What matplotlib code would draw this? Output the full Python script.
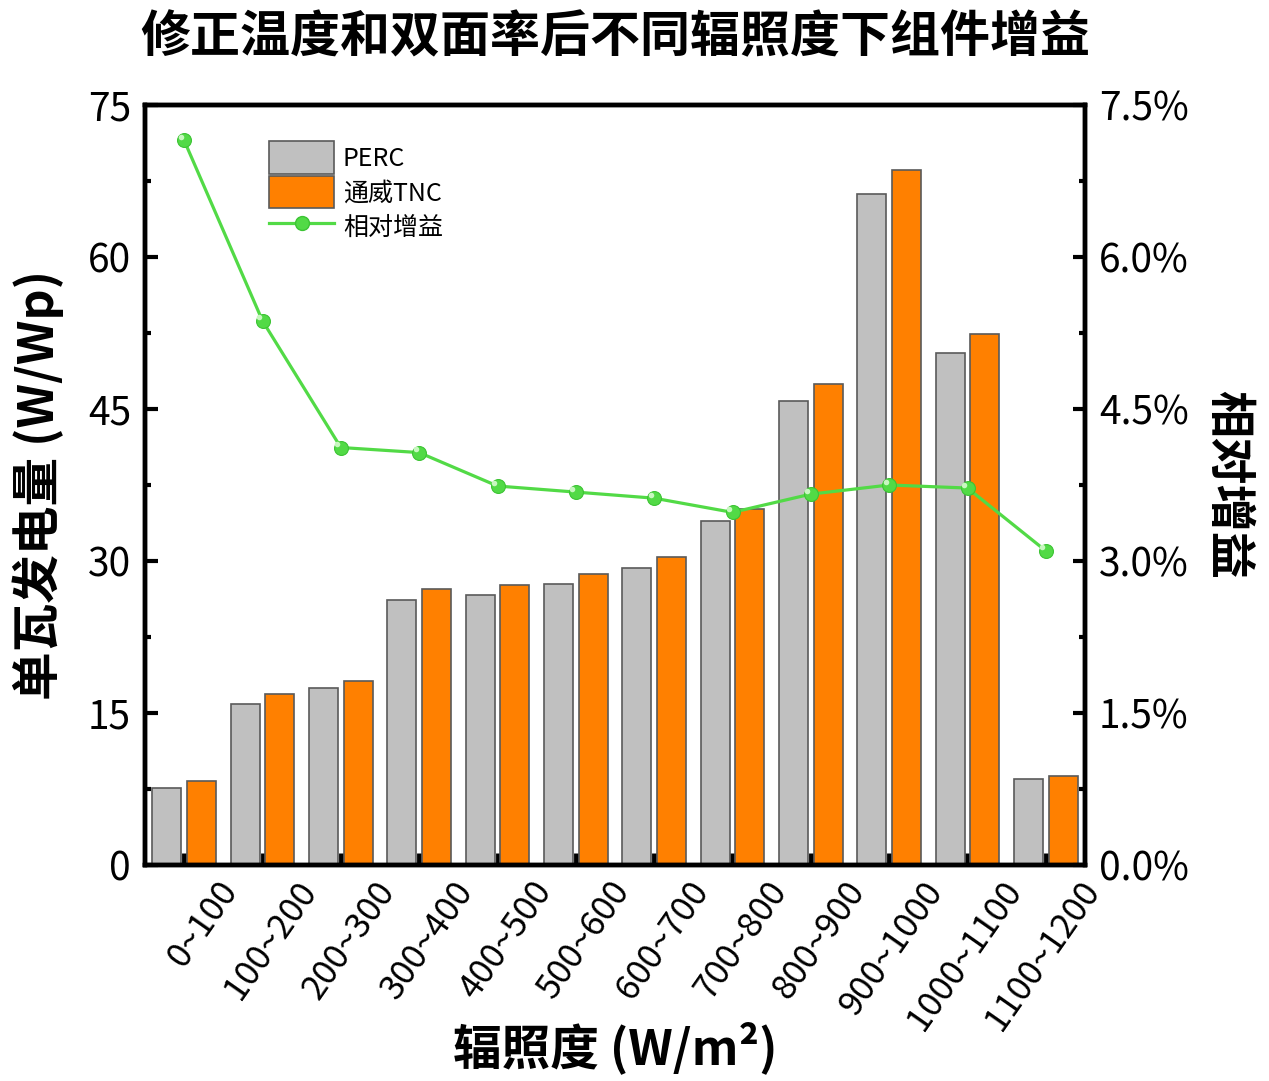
import matplotlib
matplotlib.use("Agg")
import matplotlib.pyplot as plt
import matplotlib.transforms as mtransforms
from matplotlib.patches import Patch
from matplotlib.lines import Line2D
from matplotlib.ticker import MultipleLocator, FuncFormatter
import numpy as np

plt.rcParams["font.family"] = ["Noto Sans CJK SC", "DejaVu Sans"]

# ---- data ----
categories = ["0~100", "100~200", "200~300", "300~400", "400~500", "500~600",
              "600~700", "700~800", "800~900", "900~1000", "1000~1100", "1100~1200"]
perc = [7.6, 15.9, 17.5, 26.2, 26.6, 27.7, 29.3, 33.9, 45.8, 66.2, 50.5, 8.5]
tnc = [8.3, 16.9, 18.2, 27.2, 27.6, 28.7, 30.4, 35.1, 47.5, 68.6, 52.4, 8.8]
gain_pct = [7.15, 5.37, 4.12, 4.07, 3.74, 3.68, 3.62, 3.48, 3.66, 3.75, 3.72, 3.10]

title = "修正温度和双面率后不同辐照度下组件增益"
gray = "#C0C0C0"
orange = "#FF8000"
green = "#52DA46"
edge = "#5A5A5A"

fig = plt.figure(figsize=(12.69, 10.81), dpi=100)
ax = fig.add_axes([145 / 1269, 1 - 865 / 1081, 940 / 1269, 760 / 1081])
ax2 = ax.twinx()

x = np.arange(len(categories))
bw = 0.37
ax.bar(x - 0.22, perc, width=bw, color=gray, edgecolor=edge, linewidth=1.2, zorder=2)
ax.bar(x + 0.22, tnc, width=bw, color=orange, edgecolor=edge, linewidth=1.2, zorder=2)

ax2.plot(x, gain_pct, color=green, linewidth=2.3, marker="o", markersize=10,
         markerfacecolor=green, markeredgecolor="#3CC434", markeredgewidth=0.8, zorder=3)
# highlight on the spheres
hl = mtransforms.offset_copy(ax2.transData, fig=fig, x=-2.5, y=2.5, units="points")
ax2.plot(x, gain_pct, linestyle="none", marker="o", markersize=4,
         markerfacecolor="#C8F7C0", markeredgewidth=0, transform=hl, zorder=4)

ax.set_xlim(-0.5, 11.5)
ax.set_ylim(0, 75)
ax2.set_ylim(0, 7.5)

ax.yaxis.set_major_locator(MultipleLocator(15))
ax.yaxis.set_minor_locator(MultipleLocator(7.5))
ax2.yaxis.set_major_locator(MultipleLocator(1.5))
ax2.yaxis.set_minor_locator(MultipleLocator(0.75))
ax2.yaxis.set_major_formatter(FuncFormatter(lambda v, p: f"{v:.1f}%"))

# category ticks, labels drawn as rotated texts anchored at their right end
ax.set_xticks(x)
ax.set_xticklabels([])
lbl_tr = mtransforms.blended_transform_factory(ax.transData, ax.transAxes) + \
    mtransforms.ScaledTranslation(47 / 100, -20 / 100, fig.dpi_scale_trans)
for xi, cat in zip(x, categories):
    ax.text(xi, 0, cat, transform=lbl_tr, rotation=55, ha="right", va="center",
            rotation_mode="anchor", fontsize=25)

ax.tick_params(axis="x", direction="in", length=9, width=3.5)
ax.tick_params(axis="y", which="major", direction="in", length=9, width=3,
               labelsize=28, pad=10)
ax.tick_params(axis="y", which="minor", direction="in", length=4.5, width=3)
ax2.tick_params(axis="y", which="major", direction="in", length=9, width=3,
                labelsize=28, pad=10)
ax2.tick_params(axis="y", which="minor", direction="in", length=4.5, width=3)

for a in (ax, ax2):
    for s in a.spines.values():
        s.set_linewidth(3.2)
        s.set_color("black")

ax.set_zorder(ax2.get_zorder() - 1)
ax.patch.set_visible(False)

ax.set_ylabel("单瓦发电量 (W/Wp)", fontsize=35, fontweight="bold", va="center")
ax.yaxis.set_label_coords(-0.114, 0.5)
ax.set_xlabel("辐照度 (W/m²)", fontsize=35, fontweight="bold", va="center")
ax.xaxis.set_label_coords(0.5, -0.24)
ax2.set_ylabel("相对增益", fontsize=34, fontweight="bold", rotation=-90, va="center")
ax2.yaxis.set_label_coords(1.152, 0.5)

fig.text(615 / 1269, 1 - 38 / 1081, title, fontsize=36, fontweight="bold",
         ha="center", va="center")

handles = [
    Patch(facecolor=gray, edgecolor=edge, linewidth=1.2, label="PERC"),
    Patch(facecolor=orange, edgecolor=edge, linewidth=1.2, label="通威TNC"),
    Line2D([], [], color=green, linewidth=2.3, marker="o", markersize=10,
           markerfacecolor=green, markeredgecolor="#3CC434", label="相对增益"),
]
ax2.legend(handles=handles, loc="upper left", bbox_to_anchor=(0.132, 0.952),
           frameon=False, fontsize=18, handlelength=2.6, handleheight=1.6,
           handletextpad=0.35, labelspacing=0.1, borderpad=0, borderaxespad=0)

fig.savefig("out.png", dpi=100)
